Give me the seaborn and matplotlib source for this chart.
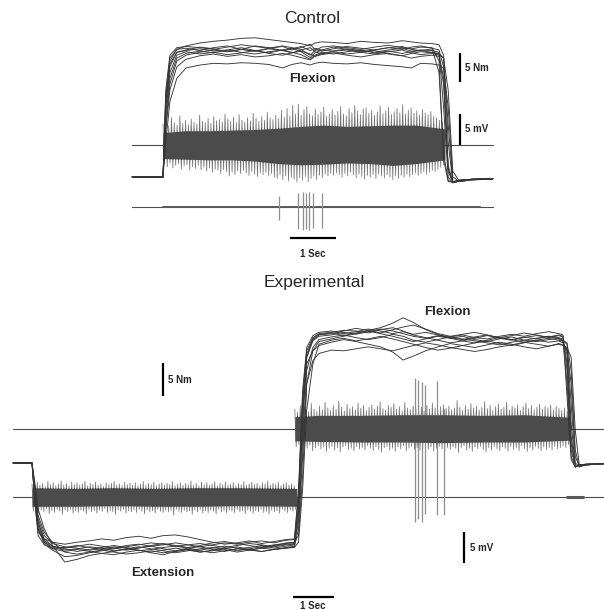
import numpy as np
import pandas as pd
import matplotlib
matplotlib.use("Agg")
import matplotlib.pyplot as plt
import seaborn as sns

# ---------------------------------------------------------------- data
# Control session: torque (Nm) of 10 flexion trials on a shared time base (s)
ctrl_time = [-0.67, 0.0, 0.06, 0.15, 0.3,
             0.5, 0.8, 1.1, 1.4, 1.7, 2.0, 2.3, 2.6, 2.8, 3.0, 3.2, 3.3, 3.45,
             3.7, 4.0, 4.3, 4.6, 4.9, 5.2, 5.4, 5.6, 5.85,
             6.0, 6.1, 6.2, 6.3, 6.45, 6.7, 7.17]
ctrl_torque = [
    [0, 0, 13, 20, 22, 22.6, 23.1, 23.4, 23.6, 23.9, 24.0, 23.7, 23.4, 23.2, 23.0, 22.6, 23.1, 23.3, 23.2, 23.0, 23.4, 23.2, 23.1, 23.5, 23.3, 23.1, 23.0, 22.8, 21.0, 6.0, -0.9, -0.6, -0.4, -0.3],
    [0, 0, 15, 21, 22.3, 22.5, 22.3, 22.0, 22.4, 22.8, 22.5, 22.2, 22.6, 22.3, 22.0, 21.0, 21.8, 22.4, 22.6, 22.3, 22.0, 22.4, 22.7, 22.3, 22.1, 22.4, 22.3, 20.0, 3.0, -0.8, -0.9, -0.6, -0.4, -0.3],
    [0, 0, 12, 19, 21.5, 21.8, 22.1, 21.7, 21.9, 22.3, 21.8, 21.4, 21.9, 22.2, 21.6, 20.6, 21.4, 21.9, 21.7, 22.1, 21.8, 21.5, 21.9, 22.2, 21.7, 21.9, 21.8, 21.5, 12.0, 0.0, -1.0, -0.7, -0.5, -0.3],
    [0, 0, 14, 20.5, 22, 22.2, 21.8, 22.3, 22.6, 22.0, 21.7, 22.2, 22.5, 21.9, 22.3, 22.9, 22.0, 21.7, 22.1, 22.5, 22.2, 21.9, 22.3, 22.0, 22.4, 22.6, 22.2, 21.9, 19.0, 2.0, -0.8, -0.5, -0.4, -0.3],
    [0, 0, 10, 17, 20.5, 21.3, 21.7, 21.4, 21.9, 21.5, 21.2, 21.6, 21.9, 21.5, 21.1, 20.3, 21.0, 21.5, 21.2, 21.6, 21.9, 21.4, 21.7, 21.3, 21.6, 21.8, 21.5, 21.3, 20.5, 15.0, 1.0, -0.8, -0.5, -0.4],
    [0, 0, 13, 19.5, 21.5, 21.9, 22.4, 22.1, 21.6, 22.0, 22.6, 22.3, 21.8, 22.1, 22.5, 21.8, 22.2, 21.9, 22.4, 22.0, 21.6, 21.9, 22.3, 22.5, 22.0, 21.8, 22.1, 18.0, 4.0, -0.6, -0.9, -0.6, -0.4, -0.3],
    [0, 0, 11, 18, 21, 21.6, 21.2, 21.5, 21.1, 21.4, 21.8, 21.3, 21.0, 21.4, 21.7, 21.2, 20.8, 21.3, 21.6, 21.2, 21.5, 21.8, 21.2, 20.9, 21.3, 21.6, 21.4, 21.2, 17.0, 1.5, -1.0, -0.7, -0.4, -0.3],
    [0, 0, 9, 16, 20, 21.0, 21.5, 21.9, 21.6, 22.0, 21.7, 22.1, 21.8, 21.4, 21.9, 22.3, 21.6, 21.2, 21.7, 21.9, 21.5, 21.2, 21.6, 21.9, 21.4, 21.1, 21.3, 21.0, 20.6, 9.0, -0.8, -0.6, -0.4, -0.3],
    [0, 0, 8, 15, 19, 20.3, 20.9, 21.2, 20.8, 21.1, 20.7, 20.9, 21.3, 21.0, 20.6, 20.2, 20.8, 21.1, 21.4, 21.0, 20.7, 21.1, 21.3, 20.9, 20.5, 20.8, 21.0, 20.8, 16.0, 1.0, -0.9, -0.6, -0.4, -0.3],
    [0, 0, 6, 13, 17, 18.8, 19.3, 19.6, 19.5, 19.7, 19.6, 19.4, 18.8, 19.4, 19.7, 19.3, 19.6, 19.8, 19.6, 19.5, 19.7, 19.4, 19.2, 19.0, 18.8, 19.6, 19.5, 19.3, 18.8, 12.0, 0.0, -0.8, -0.5, -0.3],
]

# Control EMG (mV): flexor burst envelope and the cycle peaks above / below it
ctrl_emg_on, ctrl_emg_off = 0.0, 6.13
ctrl_body_t = [0.0, 0.5, 1.0, 1.5, 2.0, 2.5, 3.0, 3.5, 4.0, 4.5, 5.0, 5.5, 6.13]
ctrl_body_up = [2.0, 2.3, 2.3, 2.4, 2.5, 2.7, 3.0, 3.2, 3.0, 3.1, 3.2, 3.2, 2.6]
ctrl_body_lo = [2.2, 2.3, 2.4, 2.4, 2.6, 3.0, 3.2, 3.1, 2.9, 3.0, 3.3, 3.0, 2.4]
ctrl_peak_up = [3.4, 3.9, 3.1, 4.4, 3.6, 3.2, 4.7, 3.5, 4.0, 3.3,
                4.2, 3.7, 3.4, 4.8, 3.8, 3.6, 4.3, 3.5, 4.6, 3.9,
                4.1, 3.7, 5.0, 4.2, 3.8, 4.5, 3.6, 4.9, 4.0, 3.7,
                4.4, 3.9, 5.1, 4.3, 3.8, 4.6, 4.0, 5.3, 4.4, 4.1,
                4.8, 4.2, 5.6, 4.5, 5.9, 4.7, 6.4, 5.0, 6.6, 4.8,
                5.7, 6.2, 5.0, 4.7, 5.8, 4.9, 5.3, 6.1, 4.6, 5.0,
                5.7, 4.8, 5.4, 6.2, 5.0, 4.7, 5.9, 5.2, 6.4, 5.5,
                4.9, 5.8, 6.0, 5.1, 5.6, 4.8, 5.3, 6.3, 5.0, 5.5,
                6.1, 4.9, 5.4, 5.9, 5.2, 6.5, 5.0, 5.6, 6.0, 5.1,
                5.5, 4.8, 5.7, 5.2, 4.9, 5.4, 4.6, 4.4, 4.0, 3.6]
ctrl_peak_lo = [3.0, 3.5, 2.9, 3.7, 3.3, 3.0, 3.9, 3.4, 3.2, 4.0,
                3.5, 3.8, 3.3, 4.0, 3.6, 4.2, 3.7, 4.4, 3.9, 4.1,
                4.6, 4.0, 4.3, 5.0, 4.4, 4.8, 4.2, 4.6, 4.1, 4.5,
                4.9, 4.3, 4.7, 5.1, 4.5, 4.8, 4.4, 5.0, 4.6, 5.2,
                5.4, 4.8, 5.6, 5.0, 5.8, 5.2, 5.5, 6.0, 5.3, 5.7,
                5.1, 5.9, 5.4, 5.0, 5.6, 4.9, 5.3, 4.7, 5.0, 4.6,
                4.9, 4.5, 4.8, 5.2, 4.6, 5.0, 4.4, 4.8, 5.3, 4.7,
                5.1, 5.5, 4.9, 5.2, 4.8, 5.4, 4.7, 5.0, 5.3, 4.8,
                5.2, 5.6, 5.0, 5.4, 4.9, 5.2, 4.7, 5.1, 4.8, 4.5,
                4.9, 4.6, 4.3, 4.7, 4.4, 4.1, 4.3, 3.9, 3.6, 3.2]
# Control antagonist EMG: isolated units (time s, up mV, down mV)
ctrl_unit_t = [2.52, 2.93, 3.04, 3.11, 3.17, 3.26, 3.46]
ctrl_unit_up = [1.8, 2.3, 2.4, 2.3, 2.4, 2.2, 2.3]
ctrl_unit_lo = [2.1, 3.6, 3.7, 3.5, 3.7, 3.4, 3.4]

# Experimental session: extension then flexion, 10 trials
exp_time = [-0.46, 0.0,
            0.07, 0.15, 0.3, 0.5,
            0.8, 1.1, 1.4, 1.7, 2.0, 2.3, 2.6, 2.9, 3.2, 3.5, 3.8, 4.1, 4.4, 4.7,
            5.0, 5.3, 5.6, 5.9, 6.2,
            6.4, 6.5, 6.6, 6.7, 6.85, 7.0,
            7.3, 7.6, 7.9, 8.2, 8.5, 8.8, 9.05, 9.3, 9.6, 9.9, 10.2, 10.5, 10.8,
            11.1, 11.4, 11.7, 12.0, 12.3, 12.6, 12.85,
            12.95, 13.05, 13.15, 13.25, 13.35, 13.5, 13.95]
exp_torque = [
    [0, 0, -5, -10, -12, -12.8,
     -13.2, -13.0, -12.7, -12.9, -13.3, -13.1, -12.8, -12.6, -13.0, -13.3, -12.9, -12.7, -13.1, -13.4, -13.0, -12.8, -12.5, -12.9, -12.6,
     -12.4, -8, 6, 16, 18.5, 19.2,
     19.4, 19.8, 19.5, 19.9, 20.3, 20.0, 19.6, 19.2, 18.9, 19.3, 19.0, 18.7, 19.1, 19.4, 18.9, 18.6, 19.0, 19.3, 19.1, 19.4,
     19.2, 15, 3, -0.6, -0.3, -0.2, -0.1],
    [0, 0, -3, -7, -10, -12.5,
     -15.0, -14.6, -14.0, -13.7, -13.9, -13.5, -13.2, -13.6, -13.9, -13.4, -13.1, -13.5, -13.2, -12.9, -13.3, -13.0, -12.7, -12.4, -12.2,
     -12.0, -11, -2, 12, 17, 18.4,
     18.8, 19.2, 19.6, 20.1, 20.5, 21.2, 22.0, 21.3, 20.2, 19.5, 18.9, 19.2, 18.7, 18.4, 18.8, 19.1, 18.6, 18.9, 19.2, 18.8,
     18.5, 18, 9, 0, -0.5, -0.3, -0.1],
    [0, 0, -6, -10.5, -11.5, -12.0,
     -12.3, -12.0, -11.8, -11.5, -11.7, -11.3, -11.1, -11.4, -11.0, -10.9, -11.2, -11.6, -12.0, -12.3, -12.1, -11.8, -12.2, -11.9, -11.6,
     -11.5, -5, 10, 17, 19, 19.6,
     19.8, 20.1, 20.0, 19.7, 20.2, 20.5, 20.0, 19.4, 19.0, 18.6, 18.2, 18.5, 18.9, 19.3, 19.0, 18.7, 19.1, 18.8, 19.2, 19.0,
     18.8, 12, 1, -0.6, -0.3, -0.2, -0.1],
    [0, 0, -4, -9, -11.5, -12.6,
     -13.0, -13.4, -13.1, -12.8, -12.5, -12.8, -13.2, -13.5, -13.2, -12.9, -13.2, -13.5, -13.3, -13.0, -12.7, -13.1, -13.4, -13.1, -12.8,
     -12.6, -6, 8, 15, 17, 17.8,
     18.3, 18.7, 18.4, 18.0, 17.6, 16.8, 15.6, 16.2, 17.0, 17.6, 18.1, 17.8, 18.2, 18.5, 18.1, 17.8, 18.2, 18.6, 18.3, 18.5,
     18.2, 17, 6, -0.5, -0.4, -0.2, -0.1],
    [0, 0, -5, -9.5, -12, -13.0,
     -13.4, -13.1, -13.4, -13.7, -13.4, -13.0, -12.7, -13.0, -13.3, -13.6, -13.3, -13.0, -12.8, -13.1, -13.5, -13.2, -12.9, -13.1, -12.9,
     -12.7, -10, 1, 12, 15.5, 16.6,
     17.1, 17.0, 17.3, 17.6, 17.3, 17.0, 17.4, 17.8, 18.2, 17.9, 17.5, 17.2, 16.9, 17.2, 17.6, 17.9, 18.3, 18.0, 17.7, 18.0,
     17.8, 17.3, 12, 1, -0.5, -0.3, -0.1],
    [0, 0, -6, -11, -12.4, -12.9,
     -12.8, -12.5, -12.8, -13.1, -12.9, -12.5, -12.3, -12.6, -12.4, -12.1, -12.4, -12.7, -12.4, -12.1, -12.3, -12.0, -11.8, -12.1, -11.7,
     -11.6, -4, 11, 17.5, 19.3, 19.8,
     20.0, 19.6, 19.9, 20.3, 20.0, 19.6, 19.9, 19.5, 19.8, 19.4, 19.1, 19.4, 19.0, 18.8, 19.2, 19.5, 19.2, 19.6, 19.9, 19.6,
     19.4, 10, 0.5, -0.6, -0.3, -0.2, -0.1],
    [0, 0, -4, -8.5, -11, -12.2,
     -12.7, -12.9, -13.2, -13.0, -12.7, -12.9, -13.3, -13.1, -12.8, -12.6, -12.9, -13.2, -12.9, -12.6, -12.9, -13.2, -12.9, -12.6, -12.3,
     -12.2, -9, 3, 14, 17.5, 18.7,
     19.1, 19.4, 19.0, 18.7, 19.0, 19.5, 19.2, 18.6, 18.3, 18.7, 19.1, 18.8, 18.5, 18.2, 17.9, 18.3, 18.6, 18.4, 18.7, 18.9,
     18.6, 18.2, 14, 2, -0.6, -0.3, -0.1],
    [0, 0, -3.5, -8, -10.5, -12.0,
     -13.5, -13.8, -13.5, -13.2, -13.5, -13.8, -13.6, -13.3, -13.6, -13.4, -13.1, -13.3, -13.6, -13.3, -13.0, -13.2, -13.4, -13.1, -12.9,
     -12.8, -12, -4, 8, 15, 18.0,
     18.6, 18.9, 18.5, 18.8, 19.2, 18.8, 18.4, 18.0, 17.5, 17.1, 17.4, 17.8, 17.5, 17.9, 18.3, 18.0, 17.6, 17.3, 17.7, 18.1,
     17.9, 17.5, 16, 5, -0.4, -0.3, -0.1],
    [0, 0, -5.5, -10, -12.3, -13.2,
     -14.2, -14.0, -13.6, -13.3, -13.0, -12.7, -12.4, -12.1, -12.3, -12.6, -12.4, -12.2, -12.5, -12.8, -12.5, -12.2, -12.4, -12.7, -12.4,
     -12.3, -7, 7, 16, 18.7, 19.4,
     19.6, 20.0, 20.4, 20.1, 19.7, 20.2, 20.6, 20.9, 20.3, 19.6, 19.2, 19.5, 19.8, 19.4, 19.0, 19.3, 19.7, 19.4, 19.0, 19.3,
     19.1, 14, 2, -0.6, -0.4, -0.2, -0.1],
    [0, 0, -4.5, -9, -11.8, -12.6,
     -12.9, -12.6, -12.3, -12.6, -12.9, -13.2, -12.9, -12.5, -12.2, -12.5, -12.8, -12.5, -12.1, -11.9, -12.2, -12.5, -12.8, -12.5, -12.1,
     -12.0, -6.5, 9, 16.5, 18.8, 19.5,
     19.7, 19.3, 19.7, 20.0, 19.6, 19.2, 18.8, 18.4, 18.8, 19.2, 18.9, 18.5, 18.2, 18.6, 19.0, 18.7, 18.3, 18.6, 18.9, 18.6,
     18.4, 16.5, 4, -0.5, -0.4, -0.2, -0.1],
]

# Experimental flexor EMG (mV)
flex_emg_on, flex_emg_off = 6.41, 13.12
flex_body_t = [6.41, 7.0, 8.0, 9.0, 10.0, 11.0, 12.0, 13.12]
flex_body_up = [2.0, 2.2, 2.2, 2.3, 2.3, 2.2, 2.3, 1.9]
flex_body_lo = [1.9, 2.0, 2.1, 2.1, 2.2, 2.1, 2.1, 1.8]
flex_peak_up = [3.2, 2.7, 3.8, 3.0, 3.5, 2.8, 4.1, 3.2, 2.9, 3.7,
                3.1, 4.3, 3.4, 3.0, 3.8, 3.2, 4.5, 3.5, 2.9, 4.0,
                3.3, 3.6, 3.1, 4.2, 3.4, 3.8, 3.0, 3.5, 3.9, 3.2,
                3.7, 4.4, 3.3, 3.0, 3.8, 3.5, 4.1, 3.2, 3.6, 2.9,
                4.3, 3.4, 3.1, 3.7, 3.3, 4.0, 3.5, 2.9, 3.8, 3.2,
                4.2, 3.4, 3.0, 3.6, 3.9, 3.3, 3.7, 3.1, 3.4, 4.6,
                3.5, 3.0, 3.8, 3.2, 4.1, 3.4, 3.7, 3.1, 3.5, 4.4,
                3.3, 3.8, 3.0, 3.6, 4.0, 3.2, 3.5, 4.3, 3.1, 3.7,
                3.4, 3.9, 3.0, 3.6, 4.2, 3.3, 3.8, 3.1, 3.5, 4.0,
                3.2, 3.7, 3.4, 3.9, 3.1, 3.6, 3.3, 3.0, 3.4, 2.8]
flex_peak_lo = [2.9, 2.5, 3.3, 2.8, 3.1, 2.6, 3.5, 3.0, 2.7, 3.2,
                2.9, 3.6, 3.1, 2.8, 3.4, 3.0, 3.7, 2.9, 2.7, 3.3,
                3.1, 3.5, 2.8, 3.2, 3.0, 3.4, 2.7, 3.1, 3.5, 2.9,
                3.3, 3.7, 3.0, 2.8, 3.4, 3.1, 3.6, 2.9, 3.2, 2.7,
                3.5, 3.1, 2.8, 3.3, 3.0, 3.4, 3.2, 2.7, 3.3, 2.9,
                3.6, 3.1, 2.8, 3.2, 3.5, 3.0, 3.3, 2.9, 3.1, 3.8,
                3.0, 2.7, 3.4, 3.1, 3.6, 2.9, 3.2, 2.8, 3.3, 3.7,
                3.0, 3.4, 2.8, 3.2, 3.5, 2.9, 3.1, 3.6, 2.8, 3.3,
                3.0, 3.5, 2.7, 3.2, 3.6, 3.0, 3.4, 2.8, 3.1, 3.5,
                2.9, 3.3, 3.0, 3.4, 2.8, 3.2, 3.0, 2.7, 3.0, 2.5]
flex_unit_t = [9.34, 9.41, 9.51, 9.59, 9.88, 10.05]
flex_unit_up = [8.2, 7.9, 7.6, 7.1, 7.7, 3.2]
flex_unit_lo = [15.0, 14.5, 15.0, 13.7, 13.9, 13.9]

# Experimental extensor EMG (mV)
ext_emg_on, ext_emg_off = 0.0, 6.46
ext_body_t = [0.0, 1.0, 2.0, 3.0, 4.0, 5.0, 6.46]
ext_body_up = [1.5, 1.4, 1.5, 1.4, 1.5, 1.5, 1.4]
ext_body_lo = [1.5, 1.5, 1.4, 1.5, 1.5, 1.4, 1.5]
ext_peak_up = [2.1, 1.8, 2.4, 1.9, 2.2, 1.7, 2.5, 2.0, 2.3, 1.8,
               2.1, 2.6, 1.9, 2.2, 1.8, 2.4, 2.0, 2.3, 1.9, 2.1,
               2.5, 1.8, 2.2, 2.0, 2.4, 1.9, 2.1, 1.7, 2.3, 2.0,
               2.2, 2.5, 1.9, 2.1, 1.8, 2.4, 2.0, 2.2, 1.9, 2.3,
               1.8, 2.1, 2.5, 1.9, 2.2, 2.0, 2.4, 1.8, 2.1, 2.3,
               1.9, 2.2, 2.0, 2.5, 1.8, 2.1, 2.3, 1.9, 2.2, 2.0,
               2.6, 1.9, 2.2, 1.8, 2.4, 2.0, 2.3, 1.9, 2.1, 2.5,
               1.8, 2.2, 2.0, 2.4, 1.9, 2.1, 2.3, 1.8, 2.2, 2.0,
               2.5, 1.9, 2.1, 2.4, 2.0, 2.2, 1.8, 2.3, 2.1, 2.6,
               1.9, 2.2, 2.0, 2.4, 1.8, 2.1, 2.3, 1.9, 2.1, 1.8]
ext_peak_lo = [2.3, 2.0, 2.6, 2.1, 2.4, 1.9, 2.7, 2.2, 2.5, 2.0,
               2.3, 2.8, 2.1, 2.4, 2.0, 2.6, 2.2, 2.5, 2.1, 2.3,
               2.7, 2.0, 2.4, 2.2, 2.6, 2.1, 2.3, 1.9, 2.5, 2.2,
               2.4, 2.8, 2.1, 2.3, 2.0, 2.6, 2.2, 2.4, 2.1, 2.5,
               2.0, 2.3, 2.7, 2.1, 2.4, 2.2, 2.6, 2.0, 2.3, 2.5,
               2.1, 2.4, 2.2, 2.9, 2.0, 2.3, 2.5, 2.1, 2.4, 2.2,
               2.8, 2.1, 2.4, 2.0, 2.6, 2.2, 2.5, 2.1, 2.3, 2.7,
               2.0, 2.4, 2.2, 2.6, 2.1, 2.3, 2.5, 2.0, 2.4, 2.2,
               2.7, 2.1, 2.3, 2.6, 2.2, 2.4, 2.0, 2.5, 2.3, 2.8,
               2.1, 2.4, 2.2, 2.6, 2.0, 2.3, 2.5, 2.1, 2.3, 2.0]

# ---------------------------------------------------------------- style
sns.set_theme(style="white")
plt.rcParams["font.family"] = ["Liberation Sans", "DejaVu Sans"]

TRACE = "#363636"
EMG_DARK = "#4b4b4b"
EMG_LIGHT = "#727272"

fig = plt.figure(figsize=(6.04, 6.10), dpi=100)

# Control panel: 46 px per second, 5.8 px per Nm; EMG at 1.07 Nm-units per mV
ax_c = fig.add_axes([0, 0, 1, 1])
ax_c.set_xlim(-163 / 46, (604 - 163) / 46)
ax_c.set_ylim((177 - 610) / 5.8, 177 / 5.8)
ax_c.axis("off")
c_gain = 6.2 / 5.8

# Experimental panel: 41 px per second, 6.6 px per Nm
ax_e = fig.add_axes([0, 0, 1, 1])
ax_e.set_xlim(-32 / 41, (604 - 32) / 41)
ax_e.set_ylim((463 - 610) / 6.6, 463 / 6.6)
ax_e.axis("off")
ax_e.patch.set_alpha(0)
e_gain = 6.2 / 6.6


def torque_frame(time, traces):
    rows = []
    for k, tr in enumerate(traces):
        assert len(tr) == len(time)
        rows.append(pd.DataFrame({"t": time, "torque": tr, "trial": k}))
    return pd.concat(rows, ignore_index=True)


def emg_line(ax, t0, t1, base, lw=0.8, color=EMG_DARK):
    ax.plot([t0, t1], [base, base], color=color, lw=lw, zorder=1)


def emg_burst(ax, on, off, body_t, body_up, body_lo, peak_up, peak_lo, base, gain):
    """Oscillating trace through the listed cycle peaks, with the dense core filled."""
    n = len(peak_up)
    step = (off - on) / n
    t_up = np.linspace(on, off - step, n)
    t_lo = t_up + step / 2
    tt = np.empty(2 * n)
    yy = np.empty(2 * n)
    tt[0::2], tt[1::2] = t_up, t_lo
    yy[0::2] = base + gain * np.asarray(peak_up)
    yy[1::2] = base - gain * np.asarray(peak_lo)
    ax.plot(tt, yy, color=EMG_LIGHT, lw=0.55, zorder=1.5)
    ax.fill_between(np.asarray(body_t), base + gain * np.asarray(body_up),
                    base - gain * np.asarray(body_lo),
                    color=EMG_DARK, lw=0, zorder=2)


def units(ax, t, up, lo, base, gain):
    ax.vlines(t, base - gain * np.asarray(lo), base + gain * np.asarray(up),
              color="#8f8f8f", lw=0.9, zorder=1.6)


def scale_bar(ax, x0, x1, y0, y1):
    ax.plot([x0, x1], [y0, y1], color="black", lw=1.6, solid_capstyle="butt", zorder=5)


# ---------------------------------------------------------------- control
c_emg1, c_emg2 = 5.52, -5.17
emg_line(ax_c, -0.67, 7.17, c_emg1)
emg_line(ax_c, -0.67, 7.17, c_emg2)
emg_line(ax_c, 0.0, 6.9, c_emg2, lw=1.4, color="#5a5a5a")
emg_burst(ax_c, ctrl_emg_on, ctrl_emg_off, ctrl_body_t, ctrl_body_up, ctrl_body_lo,
          ctrl_peak_up, ctrl_peak_lo, c_emg1, c_gain)
units(ax_c, ctrl_unit_t, ctrl_unit_up, ctrl_unit_lo, c_emg2, c_gain)

sns.lineplot(data=torque_frame(ctrl_time, ctrl_torque), x="t", y="torque",
             units="trial", estimator=None, color=TRACE, lw=0.65,
             legend=False, ax=ax_c, zorder=3)
ax_c.set_xlabel("")
ax_c.set_ylabel("")

ax_c.text(3.24, 27.4, "Control", ha="center", va="center", fontsize=12.5)
ax_c.text(3.24, 16.9, "Flexion", ha="center", va="center", fontsize=9.5, fontweight="bold")
scale_bar(ax_c, 6.46, 6.46, 16.4, 21.4)
ax_c.text(6.57, 18.8, "5 Nm", ha="left", va="center", fontsize=7, fontweight="bold")
scale_bar(ax_c, 6.46, 6.46, c_emg1, c_emg1 + 5 * c_gain)
ax_c.text(6.57, 8.3, "5 mV", ha="left", va="center", fontsize=7, fontweight="bold")
scale_bar(ax_c, 2.76, 3.76, -10.5, -10.5)
ax_c.text(3.26, -13.3, "1 Sec", ha="center", va="center", fontsize=7, fontweight="bold")

# ---------------------------------------------------------------- experimental
e_flex, e_ext = 5.15, -5.15
emg_line(ax_e, -0.46, 13.95, e_flex)
emg_line(ax_e, -0.46, 13.95, e_ext)
emg_line(ax_e, 13.05, 13.44, e_ext, lw=2.2, color="#5a5a5a")
emg_burst(ax_e, ext_emg_on, ext_emg_off, ext_body_t, ext_body_up, ext_body_lo,
          ext_peak_up, ext_peak_lo, e_ext, e_gain)
emg_burst(ax_e, flex_emg_on, flex_emg_off, flex_body_t, flex_body_up, flex_body_lo,
          flex_peak_up, flex_peak_lo, e_flex, e_gain)
units(ax_e, flex_unit_t, flex_unit_up, flex_unit_lo, e_flex, e_gain)

sns.lineplot(data=torque_frame(exp_time, exp_torque), x="t", y="torque",
             units="trial", estimator=None, color=TRACE, lw=0.65,
             legend=False, ax=ax_e, zorder=3)
ax_e.set_xlabel("")
ax_e.set_ylabel("")

ax_e.text(6.88, 27.3, "Experimental", ha="center", va="center", fontsize=12.5)
ax_e.text(10.12, 22.9, "Flexion", ha="center", va="center", fontsize=9.5, fontweight="bold")
ax_e.text(3.2, -16.7, "Extension", ha="center", va="center", fontsize=9.5, fontweight="bold")
scale_bar(ax_e, 3.2, 3.2, 10.15, 15.15)
ax_e.text(3.32, 12.6, "5 Nm", ha="left", va="center", fontsize=7, fontweight="bold")
scale_bar(ax_e, 10.54, 10.54, -15.2, -15.2 + 5 * e_gain)
ax_e.text(10.68, -12.9, "5 mV", ha="left", va="center", fontsize=7, fontweight="bold")
scale_bar(ax_e, 6.37, 7.37, -20.3, -20.3)
ax_e.text(6.85, -21.7, "1 Sec", ha="center", va="center", fontsize=7, fontweight="bold")

fig.savefig("out.png", dpi=100, facecolor="white")
